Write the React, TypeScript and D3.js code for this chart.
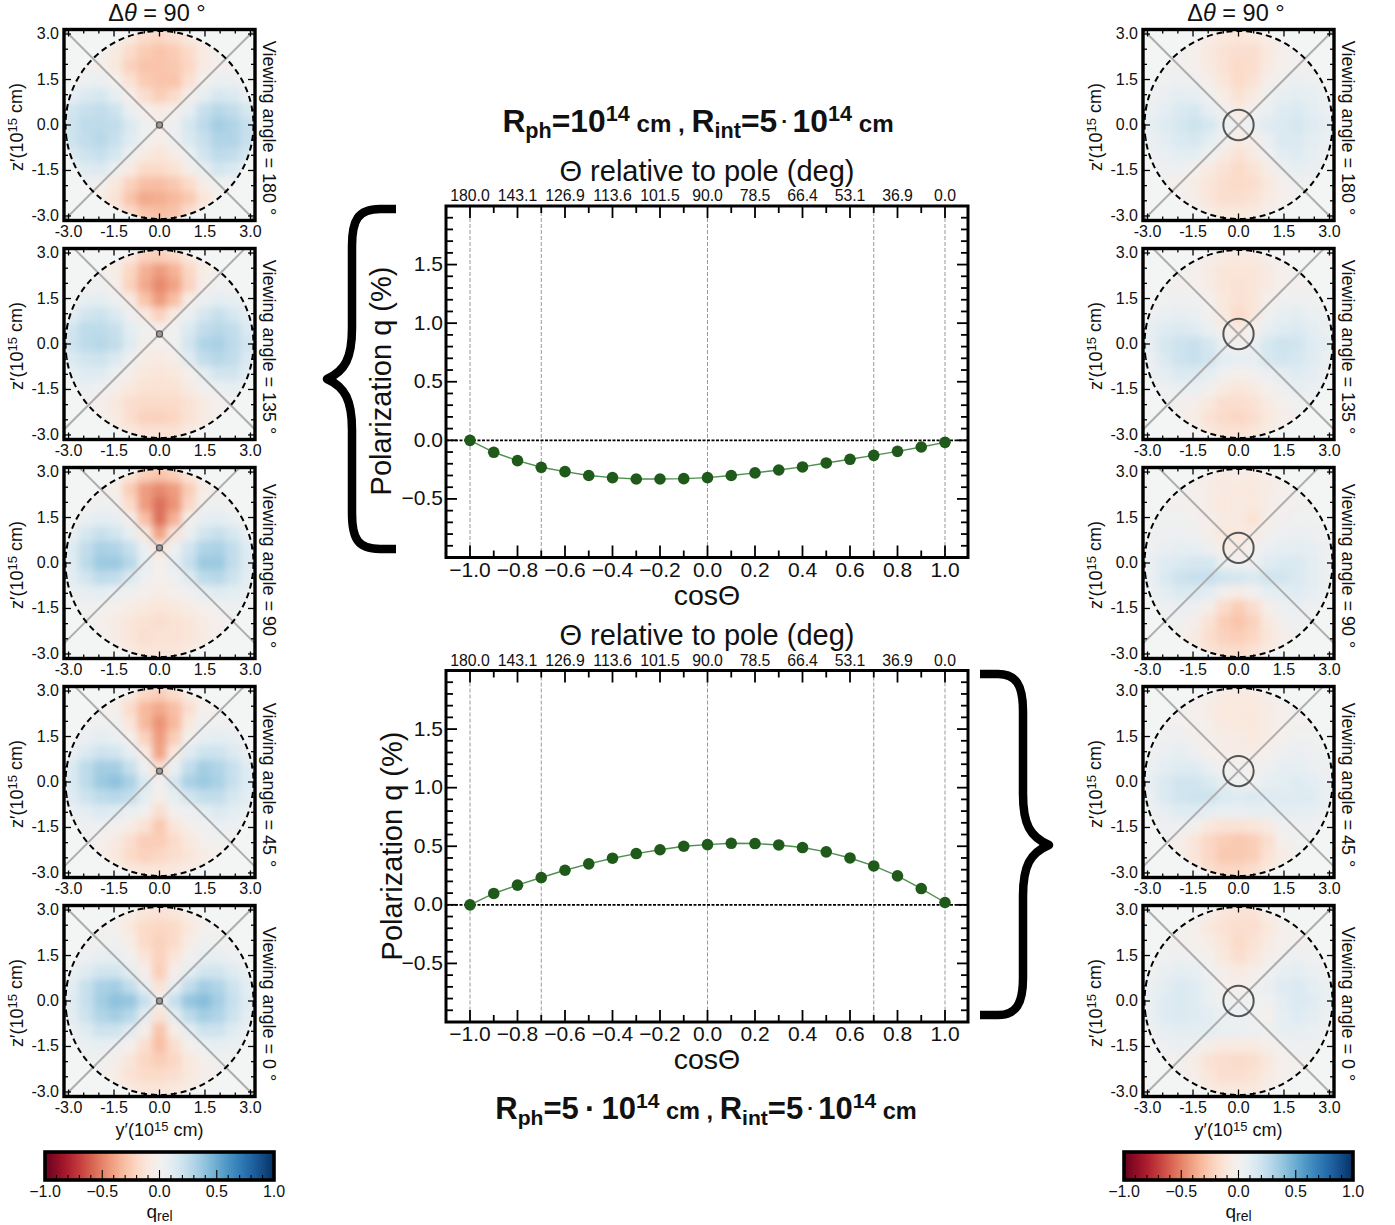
import React from "react";
import * as d3 from "d3";

const cosTheta = d3.range(-10, 11).map((d) => d / 10);
const qTop = [0, -0.102, -0.173, -0.23, -0.267, -0.3, -0.318, -0.33, -0.33, -0.327, -0.318, -0.3, -0.278, -0.253, -0.227, -0.193, -0.162, -0.128, -0.094, -0.057, -0.017];
const qBottom = [0, 0.097, 0.168, 0.233, 0.295, 0.35, 0.398, 0.4375, 0.47, 0.5, 0.514, 0.525, 0.523, 0.511, 0.489, 0.452, 0.4, 0.332, 0.247, 0.139, 0.02];
const thetaTicks = [-1, -0.8, -0.6, -0.4, -0.2, 0, 0.2, 0.4, 0.6, 0.8, 1];
const thetaLabels = ["180.0", "143.1", "126.9", "113.6", "101.5", "90.0", "78.5", "66.4", "53.1", "36.9", "0.0"];
const guideLines = [-1, -0.7, 0, 0.7, 1];
const yMajor = [-0.5, 0, 0.5, 1, 1.5];
const panelTicks = [-3, -1.5, 0, 1.5, 3];
const panelTickLabels = ["-3.0", "-1.5", "0.0", "1.5", "3.0"];
const barTicks = [-1, -0.5, 0, 0.5, 1];
const barTickLabels = ["−1.0", "−0.5", "0.0", "0.5", "1.0"];
const viewingAngles = [180, 135, 90, 45, 0];
const sourceOffsets = [0, 0.33, 0.5, 0.36, 0];

// Cell values of q_rel x 100, read by eye; rows run z' = +3 to -3, columns y' = -3 to +3
const left180 = [
  [0,0,0,0,-10,-18,-20,-16,-10,0,0,0,0],[0,0,0,-8,-18,-25,-28,-25,-18,-8,0,0,0],[0,0,-2,-10,-22,-28,-28,-26,-20,-8,-2,0,0],
  [0,4,6,-2,-14,-25,-28,-28,-15,-2,6,6,0],[8,14,16,8,-4,-16,-24,-18,-4,8,16,14,6],[18,22,24,20,6,-4,-8,-4,8,22,28,24,16],
  [20,26,26,24,14,3,-4,4,16,26,34,30,22],[20,24,28,22,12,2,-5,4,14,22,30,30,22],[14,20,22,16,4,-8,-12,-6,6,18,26,24,16],
  [5,12,14,4,-8,-18,-18,-14,-4,8,18,14,6],[0,4,-2,-10,-22,-30,-30,-26,-18,-6,2,2,0],[0,0,-5,-14,-28,-38,-36,-32,-26,-12,-2,0,0],
  [0,0,0,-6,-18,-28,-30,-28,-16,-5,0,0,0],
];
const left135 = [
  [0,0,0,0,-10,-22,-24,-20,-10,0,0,0,0],[0,0,0,-6,-20,-35,-42,-35,-20,-6,0,0,0],[0,0,2,-4,-22,-38,-48,-40,-22,-4,2,0,0],
  [0,8,10,4,-8,-28,-42,-30,-6,6,10,8,0],[10,18,20,14,4,-10,-22,-8,6,16,22,16,8],[18,26,26,22,10,2,-4,2,14,24,28,24,14],
  [20,26,28,24,12,-4,-2,2,18,30,32,26,18],[14,18,20,14,4,-6,-8,-4,12,24,28,24,14],[8,12,12,4,-4,-10,-12,-10,-2,10,18,18,10],
  [2,6,2,-4,-10,-14,-14,-14,-8,0,6,8,4],[0,0,-4,-10,-16,-18,-18,-18,-14,-8,-2,0,0],[0,0,-2,-8,-16,-22,-22,-20,-14,-8,-2,0,0],
  [0,0,0,-4,-10,-14,-14,-14,-8,-3,0,0,0],
];
const left90 = [
  [0,0,0,0,-12,-24,-28,-24,-12,0,0,0,0],[0,0,0,-5,-25,-42,-48,-42,-25,-6,0,0,0],[0,0,3,0,-18,-42,-55,-45,-20,0,3,0,0],
  [0,6,10,8,-4,-30,-55,-35,-4,8,10,6,0],[6,16,22,18,8,-10,-40,-14,6,18,22,16,6],[12,24,32,30,22,6,-12,4,18,30,32,24,12],
  [12,26,36,36,28,8,-2,8,22,36,36,24,12],[10,18,26,24,14,3,-2,2,12,26,28,20,10],[5,8,10,6,2,-3,-6,-3,2,8,12,10,6],
  [0,2,0,-3,-6,-10,-12,-10,-6,-2,2,3,2],[0,0,-2,-6,-12,-14,-16,-14,-12,-6,-2,0,0],[0,0,-2,-6,-12,-16,-14,-14,-12,-8,-2,0,0],
  [0,0,0,-3,-8,-12,-12,-12,-8,-3,0,0,0],
];
const left45 = [
  [0,0,0,0,-8,-20,-24,-18,-8,0,0,0,0],[0,0,0,-2,-18,-32,-38,-30,-16,-2,0,0,0],[0,0,2,2,-12,-32,-45,-32,-10,2,2,0,0],
  [0,6,10,6,-2,-22,-42,-24,0,8,10,8,0],[6,14,20,18,8,-8,-40,-10,12,20,20,14,6],[14,26,34,34,22,4,-18,6,24,34,30,22,12],
  [14,26,36,40,32,14,0,16,32,36,32,22,12],[12,20,26,28,24,10,-4,8,18,24,24,16,10],[6,10,14,12,6,0,-16,0,4,10,14,10,6],
  [2,4,4,0,-6,-14,-26,-12,-4,2,6,6,2],[0,0,-3,-8,-16,-24,-24,-18,-10,-2,2,0,0],[0,0,-3,-10,-18,-22,-20,-16,-12,-6,-2,0,0],
  [0,0,0,-4,-10,-12,-12,-10,-6,-2,0,0,0],
];
const left0 = [
  [0,0,0,0,-6,-12,-14,-12,-6,0,0,0,0],[0,0,0,-2,-10,-18,-20,-18,-10,-2,0,0,0],[0,0,2,2,-6,-18,-22,-18,-6,2,2,0,0],
  [0,4,8,8,0,-12,-22,-12,0,8,8,4,0],[6,12,18,18,10,-4,-24,-4,10,18,18,12,6],[10,22,32,34,24,8,-14,8,24,34,30,20,10],
  [12,22,34,40,38,22,0,22,38,42,34,22,12],[10,20,30,34,28,10,-14,10,26,34,30,20,10],[6,12,20,20,12,-4,-28,-6,10,20,20,12,6],
  [2,6,8,6,-2,-16,-30,-16,-2,6,8,6,2],[0,2,2,-4,-12,-20,-24,-20,-10,-2,2,2,0],[0,0,0,-6,-14,-18,-18,-16,-10,-4,0,0,0],
  [0,0,0,-2,-8,-12,-12,-10,-6,-2,0,0,0],
];
const right180 = [
  [0,0,0,0,-6,-10,-12,-10,-6,0,0,0,0],[0,0,0,-2,-10,-14,-16,-16,-10,-2,0,0,0],[0,0,0,-2,-8,-14,-18,-16,-8,-2,0,0,0],
  [0,2,4,2,-4,-12,-18,-14,-4,2,6,4,0],[2,6,10,8,2,-6,-14,-8,2,8,10,8,4],[6,10,14,16,8,0,-8,0,6,12,14,10,6],
  [8,12,16,20,16,6,0,6,12,14,16,12,8],[6,10,14,16,10,2,-8,-4,6,14,14,10,6],[4,6,10,10,2,-8,-14,-8,2,10,12,8,4],
  [2,4,4,-2,-8,-14,-18,-14,-6,4,8,6,2],[0,0,-2,-6,-12,-16,-18,-16,-10,-2,2,2,0],[0,0,0,-4,-12,-16,-16,-14,-8,-2,0,0,0],
  [0,0,0,-2,-6,-10,-10,-8,-4,0,0,0,0],
];
const right135 = [
  [0,0,0,0,-4,-8,-10,-8,-4,0,0,0,0],[0,0,0,-2,-8,-12,-12,-12,-8,-2,0,0,0],[0,0,0,-2,-6,-12,-14,-12,-8,-2,0,0,0],
  [0,2,4,2,-2,-10,-14,-12,-2,2,4,2,0],[4,6,8,6,0,-10,-18,-12,2,8,10,6,4],[8,12,14,12,6,-4,-8,-2,8,12,14,10,6],
  [8,16,20,22,16,6,0,6,16,20,18,12,8],[6,14,20,22,18,10,8,8,16,18,16,12,6],[4,10,14,14,10,2,-2,0,6,10,12,10,4],
  [2,4,6,6,0,-8,-12,-8,-2,4,8,6,2],[0,2,0,-4,-10,-16,-16,-14,-8,-2,2,2,0],[0,0,-2,-6,-14,-18,-20,-16,-10,-4,0,0,0],
  [0,0,0,-4,-10,-14,-14,-12,-6,-2,0,0,0],
];
const right90 = [
  [0,0,0,0,-4,-8,-6,-8,-4,0,0,0,0],[0,0,0,-2,-6,-8,-10,-10,-6,-2,0,0,0],[0,0,0,-2,-6,-10,-8,-10,-6,0,0,0,0],
  [0,2,2,0,-4,-8,-8,-14,-4,0,2,2,0],[2,4,4,2,-4,-10,-10,-8,0,4,6,4,2],[4,6,8,8,4,-6,-8,0,6,8,10,8,4],
  [6,12,14,16,16,6,2,4,12,14,14,10,4],[6,14,20,22,22,18,16,14,18,18,14,10,6],[4,10,14,14,10,0,-6,0,8,10,12,8,4],
  [2,4,6,4,-4,-18,-24,-16,-4,4,6,4,2],[0,2,2,-4,-14,-24,-28,-22,-10,0,4,2,0],[0,0,-2,-8,-16,-22,-24,-20,-12,-4,0,0,0],
  [0,0,0,-6,-14,-16,-18,-14,-8,-2,0,0,0],
];
const right45 = [
  [0,0,0,0,-4,-8,-8,-8,-4,0,0,0,0],[0,0,0,-2,-6,-10,-10,-10,-6,-2,0,0,0],[0,0,0,-2,-4,-8,-10,-10,-6,-2,0,0,0],
  [0,2,4,0,-4,-6,-6,-10,-6,-2,2,2,0],[2,6,8,4,-2,-6,-6,-6,-2,4,6,4,2],[6,10,12,12,6,0,0,0,4,8,8,6,4],
  [8,14,18,18,14,8,2,2,8,10,12,10,6],[6,14,18,20,20,14,12,14,12,12,12,12,6],[4,8,12,12,8,6,6,8,8,10,10,8,4],
  [2,4,4,0,-10,-14,-14,-12,-8,2,4,4,2],[0,0,-4,-12,-20,-24,-26,-24,-16,-2,2,2,0],[0,0,-4,-12,-20,-26,-26,-24,-14,-6,0,0,0],
  [0,0,0,-8,-16,-20,-20,-16,-10,-2,0,0,0],
];
const right0 = [
  [0,0,0,0,-6,-12,-14,-14,-6,0,0,0,0],[0,0,0,-2,-10,-14,-16,-16,-10,-2,0,0,0],[0,0,0,-2,-6,-12,-18,-14,-8,-2,0,0,0],
  [0,2,4,2,-2,-10,-16,-12,-4,2,4,2,0],[2,6,10,8,2,-4,-8,-4,2,8,10,6,2],[6,10,14,12,6,-2,-4,0,6,12,14,10,6],
  [6,12,14,12,6,2,4,2,2,10,14,12,6],[6,12,14,12,10,4,6,2,-2,8,12,10,4],[4,8,10,10,10,6,6,4,2,8,8,6,4],
  [2,4,6,4,-4,-8,-8,-8,-4,2,4,4,2],[0,0,0,-6,-14,-16,-18,-16,-10,-2,0,0,0],[0,0,-2,-4,-12,-16,-16,-14,-8,-2,0,0,0],
  [0,0,0,-2,-8,-10,-10,-10,-4,0,0,0,0],
];
const leftGrids = [left180, left135, left90, left45, left0];
const rightGrids = [right180, right135, right90, right45, right0];

const FONT = "'Liberation Sans', Arial, sans-serif";
const color = d3.scaleSequential(d3.interpolateRdBu).domain([-1, 1]);
const LIM = 3.15;
const PANEL = 191;
const cellEdges = d3.range(14).map((i) => -LIM + (i * 2 * LIM) / 13);

function Sup({ t }: { t: string }) {
  return (<><tspan dy="-0.42em" fontSize="72%">{t}</tspan><tspan dy="0.3em"> </tspan></>);
}

function Panel({ id, cx, cy, grid, src, srcR, angle, xLabel }: any) {
  const x = d3.scaleLinear().domain([-LIM, LIM]).range([cx - PANEL / 2, cx + PANEL / 2]);
  const y = d3.scaleLinear().domain([-LIM, LIM]).range([cy + PANEL / 2, cy - PANEL / 2]);
  const minor = d3.range(-3, 3.01, 0.5);
  const cid = `c${id}`;
  const fid = `f${id}`;
  const tick = (v: number, len: number, key: string) => (
    <g key={key}>
      <line x1={x(v)} x2={x(v)} y1={y(-LIM)} y2={y(-LIM) - len} />
      <line x1={x(v)} x2={x(v)} y1={y(LIM)} y2={y(LIM) + len} />
      <line x1={x(-LIM)} x2={x(-LIM) + len} y1={y(v)} y2={y(v)} />
      <line x1={x(LIM)} x2={x(LIM) - len} y1={y(v)} y2={y(v)} />
    </g>
  );
  return (
    <g>
      <defs>
        <clipPath id={cid}><circle cx={x(0)} cy={y(0)} r={x(3.1) - x(0)} /></clipPath>
        <clipPath id={cid + "r"}><rect x={x(-LIM)} y={y(LIM)} width={PANEL} height={PANEL} /></clipPath>
        <filter id={fid} x="-5%" y="-5%" width="110%" height="110%"><feGaussianBlur stdDeviation="3.5" /></filter>
      </defs>
      <rect x={x(-LIM)} y={y(LIM)} width={PANEL} height={PANEL} fill="#f3f5f5" />
      <g clipPath={`url(#${cid})`}>
        <g filter={`url(#${fid})`}>
          {grid.flatMap((row: number[], r: number) =>
            row.map((v: number, c: number) => (
              <rect key={`${r}-${c}`} x={x(cellEdges[c])} y={y(cellEdges[13 - r])}
                width={x(cellEdges[c + 1]) - x(cellEdges[c]) + 0.5}
                height={y(cellEdges[12 - r]) - y(cellEdges[13 - r]) + 0.5}
                fill={color(v / 100)} />
            ))
          )}
        </g>
      </g>
      <g clipPath={`url(#${cid}r)`} stroke="#adadad" strokeWidth={2}>
        <line x1={x(-5)} y1={y(src + 5)} x2={x(5)} y2={y(src - 5)} />
        <line x1={x(-5)} y1={y(src - 5)} x2={x(5)} y2={y(src + 5)} />
      </g>
      <circle cx={x(0)} cy={y(src)} r={x(srcR) - x(0)} fill={srcR < 0.2 ? "#9a9a9a" : "none"} stroke="#555" strokeWidth={srcR < 0.2 ? 1.3 : 2} />
      <circle cx={x(0)} cy={y(0)} r={x(3.1) - x(0)} fill="none" stroke="#000" strokeWidth={2} strokeDasharray="6 4" />
      <g stroke="#000" strokeWidth={1.3}>
        {minor.map((v) => tick(v, panelTicks.includes(v) ? 7 : 4, `t${v}`))}
      </g>
      <rect x={x(-LIM)} y={y(LIM)} width={PANEL} height={PANEL} fill="none" stroke="#000" strokeWidth={3.4} />
      <g fontFamily={FONT} fontSize={16} fill="#111">
        {panelTicks.map((v, i) => (
          <text key={v} x={x(v)} y={y(-LIM) + 16} textAnchor="middle">{panelTickLabels[i]}</text>
        ))}
        {panelTicks.map((v, i) => (
          <text key={v} x={x(-LIM) - 5} y={y(v) + 5} textAnchor="end">{panelTickLabels[i]}</text>
        ))}
      </g>
      <text transform={`translate(${cx - 137},${cy + 2}) rotate(-90)`} textAnchor="middle" fontFamily={FONT} fontSize={18} fill="#111">
        z′(10<Sup t="15" />cm)
      </text>
      <text transform={`translate(${cx + 103},${cy + 3}) rotate(90)`} textAnchor="middle" fontFamily={FONT} fontSize={18} fill="#111">
        {`Viewing angle = ${angle} °`}
      </text>
      {xLabel && (
        <text x={cx} y={cy + 135} textAnchor="middle" fontFamily={FONT} fontSize={18} fill="#111">
          y′(10<Sup t="15" />cm)
        </text>
      )}
    </g>
  );
}

function ColorBar({ x0 }: { x0: number }) {
  const x = d3.scaleLinear().domain([-1, 1]).range([x0, x0 + 229]);
  const steps = d3.range(0, 229);
  const top = 1152;
  const h = 28;
  return (
    <g>
      {steps.map((s) => (
        <rect key={s} x={x0 + s} y={top} width={1.5} height={h} fill={color(x.invert(x0 + s + 0.5))} />
      ))}
      <g stroke="#000" strokeWidth={1.1}>
        {d3.range(-10, 11).map((v) => (
          <line key={v} x1={x(v / 10)} x2={x(v / 10)} y1={top + h} y2={top + h - (v % 5 === 0 ? 10 : 5)} />
        ))}
      </g>
      <rect x={x0} y={top} width={229} height={h} fill="none" stroke="#000" strokeWidth={3.6} />
      <g fontFamily={FONT} fontSize={16} fill="#111" textAnchor="middle">
        {barTicks.map((v, i) => <text key={v} x={x(v)} y={1197}>{barTickLabels[i]}</text>)}
      </g>
      <text x={x(0)} y={1218} textAnchor="middle" fontFamily={FONT} fontSize={19} fill="#111">
        q<tspan dy="3" fontSize={14}>rel</tspan>
      </text>
    </g>
  );
}

function MainPlot({ top, values, labelX, labelY }: any) {
  const left = 446;
  const right = 968;
  const bottom = top + 351.5;
  const x = d3.scaleLinear().domain([-1, 1]).range([470, 945]);
  const y = d3.scaleLinear().domain([-1, 2]).range([bottom, top]);
  const line = d3.line<number>().x((_, i) => x(cosTheta[i])).y((d) => y(d));
  const xt = d3.range(-10, 11);
  const yt = d3.range(-9, 20);
  return (
    <g>
      <g stroke="#999" strokeWidth={1} strokeDasharray="4 2">
        {guideLines.map((v) => <line key={v} x1={x(v)} x2={x(v)} y1={top} y2={bottom} />)}
      </g>
      <line x1={left} x2={right} y1={y(0)} y2={y(0)} stroke="#000" strokeWidth={1.6} strokeDasharray="3 1.5" />
      <g stroke="#000" strokeWidth={1.8}>
        {xt.map((v) => {
          const len = v % 2 === 0 ? 12 : 7;
          return (
            <g key={v}>
              <line x1={x(v / 10)} x2={x(v / 10)} y1={bottom} y2={bottom - len} />
              <line x1={x(v / 10)} x2={x(v / 10)} y1={top} y2={top + len} />
            </g>
          );
        })}
        {yt.map((v) => {
          const len = v % 5 === 0 ? 11 : 7;
          const py = y(v / 10);
          return (
            <g key={v}>
              <line x1={left} x2={left + len} y1={py} y2={py} />
              <line x1={right} x2={right - len} y1={py} y2={py} />
            </g>
          );
        })}
      </g>
      <rect x={left} y={top} width={right - left} height={bottom - top} fill="none" stroke="#000" strokeWidth={3} />
      <path d={line(values) as string} fill="none" stroke="#4f8f4f" strokeWidth={1.4} />
      {values.map((v: number, i: number) => (
        <circle key={i} cx={x(cosTheta[i])} cy={y(v)} r={5.8} fill="#1f5a1b" />
      ))}
      <g fontFamily={FONT} fontSize={15.8} fill="#111" textAnchor="middle">
        {thetaTicks.map((v, i) => <text key={v} x={x(v)} y={top - 5}>{thetaLabels[i]}</text>)}
      </g>
      <text x={707} y={top - 25.5} textAnchor="middle" fontFamily={FONT} fontSize={29} fill="#111">Θ relative to pole (deg)</text>
      <g fontFamily={FONT} fontSize={21} fill="#111" textAnchor="middle">
        {thetaTicks.map((v) => <text key={v} x={x(v)} y={bottom + 19}>{v < 0 ? `−${Math.abs(v).toFixed(1)}` : v.toFixed(1)}</text>)}
      </g>
      <g fontFamily={FONT} fontSize={21} fill="#111" textAnchor="end">
        {yMajor.map((v) => <text key={v} x={left - 3} y={y(v) + 6.5}>{v < 0 ? `−${Math.abs(v).toFixed(1)}` : v.toFixed(1)}</text>)}
      </g>
      <text x={707} y={bottom + 47} textAnchor="middle" fontFamily={FONT} fontSize={28.5} fill="#111">cosΘ</text>
      <text transform={`translate(${labelX},${labelY}) rotate(-90)`} textAnchor="middle" fontFamily={FONT} fontSize={29} fill="#111">Polarization q (%)</text>
    </g>
  );
}

function Heading({ x, y, first, size }: { x: number; y: number; first: string; size: number }) {
  return (
    <text x={x} y={y} textAnchor="middle" fontFamily={FONT} fontSize={size} fontWeight="bold" fill="#111">
      R<tspan dy="6" fontSize={size * 0.68}>ph</tspan>
      <tspan dy="-6">={first}10</tspan>
      <tspan dy="-11" fontSize={size * 0.68}>14</tspan>
      <tspan dy="11" fontSize={size * 0.76}> cm , </tspan>
      R<tspan dy="6" fontSize={size * 0.68}>int</tspan>
      <tspan dy="-6">=5</tspan>
      <tspan dy="-4" fontSize={size * 0.66}>{"\u2009·\u2009"}</tspan>
      <tspan dy="4">10</tspan>
      <tspan dy="-11" fontSize={size * 0.68}>14</tspan>
      <tspan dy="11" fontSize={size * 0.76}> cm</tspan>
    </text>
  );
}

export default function App() {
  const cys = [125, 344, 563, 782, 1001];
  return (
    <svg width={1395} height={1225} style={{ position: "absolute", left: 0, top: 0, background: "#fff" }}>
      {[159, 1238].map((cx) => (
        <text key={cx} x={cx - 2} y={21} textAnchor="middle" fontFamily={FONT} fontSize={23.5} fill="#111">
          Δ<tspan fontStyle="italic">θ</tspan> = 90 °
        </text>
      ))}
      {viewingAngles.map((a, i) => (
        <g key={a}>
          <Panel id={`l${i}`} cx={159.5} cy={cys[i]} grid={leftGrids[i]} src={sourceOffsets[i]} srcR={0.1} angle={a} xLabel={i === 4} />
          <Panel id={`r${i}`} cx={1238.5} cy={cys[i]} grid={rightGrids[i]} src={sourceOffsets[i]} srcR={0.5} angle={a} xLabel={i === 4} />
        </g>
      ))}
      <ColorBar x0={45} />
      <ColorBar x0={1124} />
      <MainPlot top={206} values={qTop} labelX={391} labelY={381} />
      <MainPlot top={670.5} values={qBottom} labelX={402} labelY={846} />
      <Heading x={698} y={132} first="" size={31.8} />
      <Heading x={706} y={1119} first={"5\u2009·\u2009"} size={31} />
      <path d="M396,209 H380 C358,209 352,220 352,246 V328 C352,358 345,371 327,379 C345,387 352,400 352,430 V513 C352,539 358,549 380,549 H396"
        fill="none" stroke="#000" strokeWidth={8.5} strokeLinejoin="round" />
      <path d="M980,674 H998 C1016,674 1023,685 1023,711 V794 C1023,824 1030,837 1049,845 C1030,853 1023,866 1023,896 V978 C1023,1004 1016,1015 998,1015 H980"
        fill="none" stroke="#000" strokeWidth={8.5} strokeLinejoin="round" />
    </svg>
  );
}
